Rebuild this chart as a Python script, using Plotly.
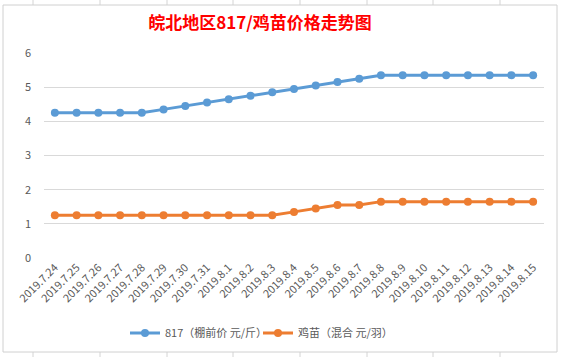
import plotly.graph_objects as go

dates = ["2019.7.24", "2019.7.25", "2019.7.26", "2019.7.27", "2019.7.28", "2019.7.29",
         "2019.7.30", "2019.7.31", "2019.8.1", "2019.8.2", "2019.8.3", "2019.8.4",
         "2019.8.5", "2019.8.6", "2019.8.7", "2019.8.8", "2019.8.9", "2019.8.10",
         "2019.8.11", "2019.8.12", "2019.8.13", "2019.8.14", "2019.8.15"]
price_817 = [4.25, 4.25, 4.25, 4.25, 4.25, 4.35, 4.45, 4.55, 4.65, 4.75, 4.85, 4.95,
             5.05, 5.15, 5.25, 5.35, 5.35, 5.35, 5.35, 5.35, 5.35, 5.35, 5.35]
price_chick = [1.25, 1.25, 1.25, 1.25, 1.25, 1.25, 1.25, 1.25, 1.25, 1.25, 1.25, 1.35,
               1.45, 1.55, 1.55, 1.65, 1.65, 1.65, 1.65, 1.65, 1.65, 1.65, 1.65]
name_817 = "817（棚前价 元/斤）"
name_chick = "鸡苗（混合 元/羽）"
title = "皖北地区817/鸡苗价格走势图"

FONT = "Noto Sans CJK SC"

fig = go.Figure()
fig.add_trace(go.Scatter(x=dates, y=price_817, name=name_817, mode="lines+markers",
                         line=dict(color="#5b9bd5", width=3),
                         marker=dict(color="#5b9bd5", size=8)))
fig.add_trace(go.Scatter(x=dates, y=price_chick, name=name_chick, mode="lines+markers",
                         line=dict(color="#ed7d31", width=3),
                         marker=dict(color="#ed7d31", size=8)))

# Excel-like sheet gridlines in background and chart border
shapes = []
for xv in [33, 100, 167, 233, 300, 367, 433, 500]:
    shapes.append(dict(type="line", xref="paper", yref="paper",
                       x0=(xv - 44) / 500, x1=(xv - 44) / 500,
                       y0=(258 - 0) / 205, y1=(258 - 5) / 205,
                       line=dict(color="#d4d4d4", width=1), layer="below"))
    shapes.append(dict(type="line", xref="paper", yref="paper",
                       x0=(xv - 44) / 500, x1=(xv - 44) / 500,
                       y0=(258 - 352) / 205, y1=(258 - 357) / 205,
                       line=dict(color="#d4d4d4", width=1), layer="below"))
shapes.append(dict(type="rect", xref="paper", yref="paper",
                   x0=(3 - 44) / 500, x1=(557 - 44) / 500,
                   y0=(258 - 352) / 205, y1=(258 - 5) / 205,
                   line=dict(color="#d0d0d0", width=1), fillcolor="rgba(0,0,0,0)",
                   layer="below"))

fig.update_layout(
    width=562, height=357,
    margin=dict(l=44, r=18, t=53, b=99),
    paper_bgcolor="white", plot_bgcolor="white",
    font=dict(family=FONT, color="#595959", size=11),
    title=dict(text="<b>" + title + "</b>", x=260 / 562, xref="container", xanchor="center",
               y=1 - 23 / 357, yanchor="middle",
               font=dict(family=FONT, color="#ff0000", size=17)),
    showlegend=True,
    legend=dict(orientation="h", x=258 / 562, xanchor="center", xref="container",
                y=1 - 333 / 357, yref="container", yanchor="middle",
                entrywidth=88, itemwidth=30,
                font=dict(family=FONT, size=11, color="#595959")),
    shapes=shapes,
)
fig.update_xaxes(type="category", range=[-0.5, len(dates) - 0.5], tickangle=-45,
                 showgrid=False, showline=False, ticks="", automargin=False,
                 tickfont=dict(family=FONT, size=11, color="#595959"))
fig.update_yaxes(range=[0, 6], dtick=1, tick0=0, showgrid=True, gridcolor="#d9d9d9",
                 gridwidth=1, zeroline=False, showline=False, ticks="",
                 ticklabelstandoff=12, automargin=False,
                 tickfont=dict(family=FONT, size=11, color="#595959"))

fig.write_html("out.html", config={"displayModeBar": False},
               post_script="document.body.style.margin='0px';")
